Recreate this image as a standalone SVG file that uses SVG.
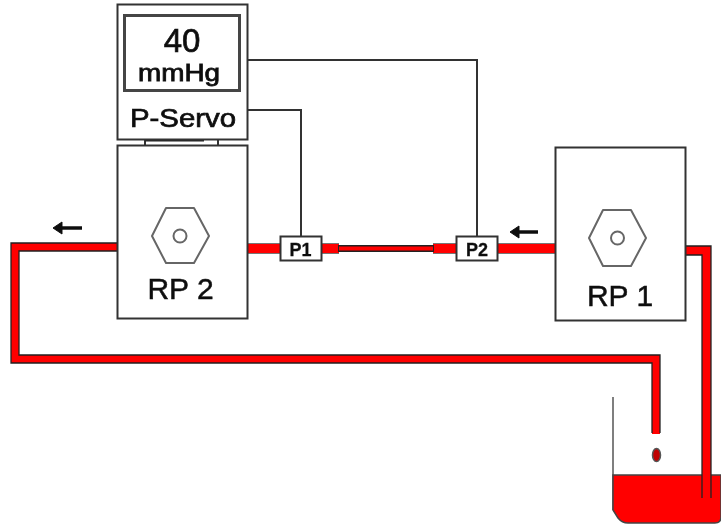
<svg xmlns="http://www.w3.org/2000/svg" width="721" height="529" viewBox="0 0 721 529">
<style>
.box{fill:#fff;stroke:#333;stroke-width:2}
.wire{fill:none;stroke:#333;stroke-width:2}
.red{fill:#f00;stroke:none}
.edge{fill:none;stroke:#222;stroke-width:1.300}
.hex{fill:#fff;stroke:#666;stroke-width:2;stroke-linejoin:round}
.arrow{fill:none;stroke:#111;stroke-width:3.500}
text{font-family:"Liberation Sans",Arial,sans-serif;fill:#111;text-anchor:middle;stroke:#111}
.lbl{font-size:30px;stroke-width:0.500}
.p{font-size:19px;font-weight:bold;stroke-width:0.300}
</style>
<defs>
<filter id="soft" x="-5%" y="-5%" width="110%" height="110%"><feGaussianBlur stdDeviation="0.45"/></filter>
</defs>
<rect width="721" height="529" fill="#fff"/>
<g filter="url(#soft)">
<g id="connectors">
<path class="red" d="M117 243H11V363H652V434H660V355H19V251H117Z"/>
<path class="edge" d="M117 243H11V363H652V433M660 433V355H19V251H117"/>
<path class="red" d="M247 243.500H339V253.500H247ZM433 243.500H555V253.500H433Z"/>
<rect x="338" y="245" width="96" height="7" fill="#222"/>
<rect x="339" y="246.500" width="94" height="4" fill="#f00"/>
<path d="M247 243.500H339M433 243.500H555M247 253.500H339M433 253.500H555" fill="none" stroke="#777" stroke-width="1"/>
<path class="wire" d="M247 60H477V237"/>
<path class="wire" d="M247 110H301V237"/>
<path class="wire" d="M145 140V146M218 140V146"/>
<path d="M145 140H204" stroke="#222" stroke-width="3"/>
<path class="arrow" d="M82 228H60"/>
<path d="M53 228L62 222V234Z" fill="#111" stroke="#111" stroke-linejoin="round"/>
<path class="arrow" d="M538 232H517"/>
<path d="M510 232L519 226V238Z" fill="#111" stroke="#111" stroke-linejoin="round"/>
</g>
<g id="beaker">
<path d="M613 397V510" fill="none" stroke="#555" stroke-width="1.500"/>
<path d="M613 475H721V517Q721 523 715 523H628Q622 523 618 518L613 510Z" fill="#f00" stroke="#444" stroke-width="1.500"/>
<ellipse cx="656.500" cy="455" rx="4" ry="6.500" fill="#c00000" stroke="#555" stroke-width="1.500"/>
</g>
<g id="rp1-outlet">
<path class="red" d="M685 246H711V498H702V255H685Z"/>
<path class="edge" d="M685 246H711V498M702 498V255H685"/>
</g>
<g id="p-servo">
<rect class="box" x="117.500" y="4.500" width="130" height="135"/>
<rect x="124.500" y="15.500" width="115" height="75" fill="#fff" stroke="#444" stroke-width="3"/>
<text x="182" y="52" font-size="33" style="stroke-width:0.700">40</text>
<text x="179" y="81" font-size="23" style="stroke-width:0.800" textLength="82" lengthAdjust="spacingAndGlyphs">mmHg</text>
<text x="183" y="127" font-size="25" textLength="106" lengthAdjust="spacingAndGlyphs" style="stroke-width:0.700">P-Servo</text>
</g>
<g id="rp2">
<rect class="box" x="117.500" y="145.500" width="130" height="173"/>
<path class="hex" d="M152 236L166 208H194L209 236L194 263H166Z"/>
<circle cx="180" cy="236" r="6.500" fill="#fff" stroke="#666" stroke-width="2"/>
<text class="lbl" x="180.500" y="299">RP 2</text>
</g>
<g id="rp1">
<rect class="box" x="555.500" y="147.500" width="130" height="173"/>
<path class="hex" d="M589 238L603 210H631L646 238L631 266H603Z"/>
<circle cx="617.500" cy="238" r="6.500" fill="#fff" stroke="#666" stroke-width="2"/>
<text class="lbl" x="620" y="306">RP 1</text>
</g>
<g id="p1">
<rect class="box" x="280.500" y="236.500" width="41" height="24"/>
<text class="p" x="300.500" y="256" textLength="22" lengthAdjust="spacingAndGlyphs">P1</text>
</g>
<g id="p2">
<rect class="box" x="456.500" y="236.500" width="41" height="24"/>
<text class="p" x="477" y="256" textLength="22" lengthAdjust="spacingAndGlyphs">P2</text>
</g>
</g>
</svg>
